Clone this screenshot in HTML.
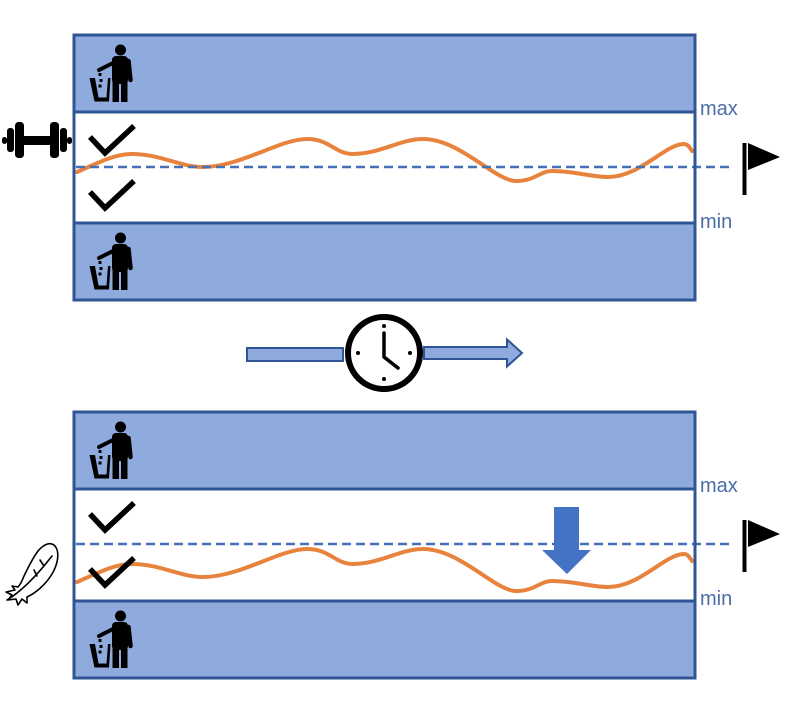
<!DOCTYPE html>
<html><head><meta charset="utf-8"><style>
html,body{margin:0;padding:0;background:#fff;}
svg{display:block;}
text{font-family:"Liberation Sans",sans-serif;}
</style></head><body>
<svg width="789" height="720" viewBox="0 0 789 720" xmlns="http://www.w3.org/2000/svg">
<defs>
<g id="trash">
  <circle cx="120.5" cy="50" r="5.5" fill="#000"/>
  <rect x="112" y="56" width="16" height="28" rx="4" fill="#000"/>
  <rect x="112.5" y="80" width="6.5" height="22" fill="#000"/>
  <rect x="121" y="80" width="6.5" height="22" fill="#000"/>
  <line x1="128.5" y1="61" x2="130.5" y2="80" stroke="#000" stroke-width="4.5" stroke-linecap="round"/>
  <line x1="115" y1="62" x2="99" y2="70" stroke="#000" stroke-width="4" stroke-linecap="round"/>
  <path d="M89.5,78 L95,78 L98.5,97.5 L106.5,97.5 L108,78 L110.5,78 L109,101.5 L94.5,101.5 Z" fill="#000"/>
  <rect x="98.5" y="73" width="3" height="3" fill="#000"/>
  <rect x="99.5" y="79" width="3" height="3" fill="#000"/>
  <rect x="98.5" y="84.5" width="3" height="3" fill="#000"/>
</g>
<path id="check" d="M90,137 L105,153 L134,126" fill="none" stroke="#000" stroke-width="5.5"/>
<path id="curve" d="M77,172 C100,162 115,154 132,154 C160,154 180,167 203,167 C240,167 280,139 307,139 C330,139 335,154 353,154 C380,154 400,139 423,139 C460,139 495,181 516,181 C535,181 540,171 552,171 C575,171 590,177 608,177 C640,177 665,144 684,144 C688,144 690,148 692,151" fill="none" stroke="#E8833D" stroke-width="4" stroke-linecap="round"/>
<g id="flag">
  <rect x="742.5" y="143" width="4" height="52" fill="#000"/>
  <path d="M748,143 L780,157 L748,170 Z" fill="#000"/>
</g>
</defs>

<!-- TOP BOX -->
<rect x="74" y="35" width="621" height="77" fill="#8FAADC"/>
<rect x="74" y="112" width="621" height="111" fill="#fff"/>
<rect x="74" y="223" width="621" height="77" fill="#8FAADC"/>
<use href="#curve"/>
<line x1="76" y1="167" x2="730" y2="167" stroke="#4470B8" stroke-width="2.5" stroke-dasharray="9,5"/>
<rect x="74" y="35" width="621" height="265" fill="none" stroke="#2F5597" stroke-width="3"/>
<line x1="74" y1="112" x2="695" y2="112" stroke="#2F5597" stroke-width="3"/>
<line x1="74" y1="223" x2="695" y2="223" stroke="#2F5597" stroke-width="3"/>
<use href="#trash"/>
<use href="#trash" transform="translate(0,188)"/>
<use href="#check"/>
<use href="#check" transform="translate(0,55)"/>
<text x="700" y="115" font-size="20" fill="#4A6DAA">max</text>
<text x="700" y="228" font-size="20" fill="#4A6DAA">min</text>
<use href="#flag"/>

<!-- dumbbell -->
<g fill="#000">
  <rect x="2" y="137" width="5" height="7" rx="2.5"/>
  <rect x="7" y="128" width="7" height="24" rx="3"/>
  <rect x="15" y="122" width="9" height="36" rx="3.5"/>
  <rect x="23" y="136" width="28" height="9"/>
  <rect x="50" y="122" width="9" height="36" rx="3.5"/>
  <rect x="60" y="128" width="7" height="24" rx="3"/>
  <rect x="67" y="137" width="5" height="7" rx="2.5"/>
</g>

<!-- CLOCK ROW -->
<rect x="247" y="348" width="96" height="13" fill="#8FAADC" stroke="#2F5597" stroke-width="2"/>
<path d="M424,347 L507,347 L507,339.5 L522,353 L507,366.5 L507,359 L424,359 Z" fill="#8FAADC" stroke="#2F5597" stroke-width="2"/>
<circle cx="384" cy="353" r="36" fill="#fff" stroke="#000" stroke-width="6"/>
<circle cx="384" cy="326" r="2" fill="#000"/>
<circle cx="410" cy="353" r="2" fill="#000"/>
<circle cx="384" cy="379" r="2" fill="#000"/>
<circle cx="358" cy="353" r="2" fill="#000"/>
<path d="M384,333 L384,357 L398,368" fill="none" stroke="#000" stroke-width="3.5" stroke-linecap="round" stroke-linejoin="round"/>

<!-- BOTTOM BOX -->
<rect x="74" y="412" width="621" height="77" fill="#8FAADC"/>
<rect x="74" y="489" width="621" height="111" fill="#fff"/>
<rect x="74" y="600" width="621" height="78" fill="#8FAADC"/>
<use href="#curve" transform="translate(0,410)"/>
<line x1="76" y1="544" x2="730" y2="544" stroke="#4470B8" stroke-width="2.5" stroke-dasharray="9,5"/>
<rect x="74" y="412" width="621" height="266" fill="none" stroke="#2F5597" stroke-width="3"/>
<line x1="74" y1="489" x2="695" y2="489" stroke="#2F5597" stroke-width="3"/>
<line x1="74" y1="601" x2="695" y2="601" stroke="#2F5597" stroke-width="3"/>
<use href="#trash" transform="translate(0,377)"/>
<use href="#trash" transform="translate(0,566)"/>
<use href="#check" transform="translate(0,377)"/>
<use href="#check" transform="translate(0,432)"/>
<text x="700" y="492" font-size="20" fill="#4A6DAA">max</text>
<text x="700" y="605" font-size="20" fill="#4A6DAA">min</text>
<use href="#flag" transform="translate(0,377)"/>
<path d="M554,507 L579,507 L579,550 L591,550 L567,574 L542,550 L554,550 Z" fill="#4472C4"/>

<!-- feather -->
<g fill="none" stroke="#000" stroke-width="1.6" stroke-linejoin="round" stroke-linecap="round">
  <path d="M55,546 C50,541 43,545 38,551 C32,559 28,568 24,576 C22,581 20,585 18,587 L12,586 L15,590 L6,592 L12,595 L8,600 L16,599 L18,605 L22,599 L27,603 L27,597 C36,593 46,584 52,574 C58,564 60,552 55,546 Z"/>
  <path d="M7,600 C22,591 38,574 52,556"/>
  <path d="M40,560 L44,566"/>
  <path d="M34,570 L37,576"/>
</g>
</svg>
</body></html>
